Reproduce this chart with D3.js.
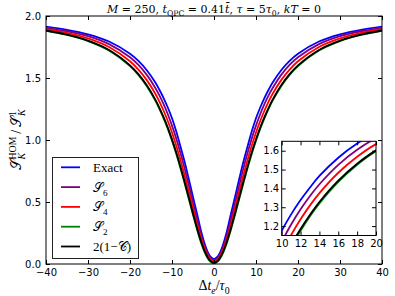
<!DOCTYPE html>
<html>
<head>
<meta charset="utf-8">
<script src="https://cdnjs.cloudflare.com/ajax/libs/d3/7.8.5/d3.min.js"></script>
<style>
body { margin: 0; background: #fff; }
</style>
</head>
<body>
<div id="chart"></div>
<script>
// delay axis (dt_e / tau_0)
var dt = [-40, -35, -30, -25, -20, -18, -16, -14, -13, -12, -11, -10, -9, -8, -7, -6, -5, -4, -3, -2, -1,
          0, 1, 2, 3, 4, 5, 6, 7, 8, 9, 10, 11, 12, 13, 14, 16, 18, 20, 25, 30, 35, 40];

// (main plot + inset)
var exact = [1.914, 1.889, 1.852, 1.794, 1.696, 1.638, 1.563, 1.466, 1.405, 1.338, 1.262, 1.175, 1.07, 0.95, 0.825, 0.685, 0.54, 0.40, 0.255, 0.14, 0.066,
             0.04, 0.066, 0.14, 0.255, 0.40, 0.54, 0.685, 0.825, 0.95, 1.07, 1.175, 1.262, 1.338, 1.405, 1.466, 1.563, 1.638, 1.696, 1.794, 1.852, 1.889, 1.914];
var s6 = [1.905, 1.877, 1.837, 1.773, 1.667, 1.605, 1.525, 1.422, 1.36, 1.289, 1.208, 1.116, 1.013, 0.897, 0.771, 0.634, 0.493, 0.354, 0.226, 0.122, 0.054,
          0.03, 0.054, 0.122, 0.226, 0.354, 0.493, 0.634, 0.771, 0.897, 1.013, 1.116, 1.208, 1.289, 1.36, 1.422, 1.525, 1.605, 1.667, 1.773, 1.837, 1.877, 1.905];
var s4 = [1.894, 1.864, 1.819, 1.75, 1.635, 1.568, 1.483, 1.375, 1.31, 1.236, 1.153, 1.06, 0.955, 0.84, 0.716, 0.584, 0.449, 0.318, 0.199, 0.104, 0.042,
          0.02, 0.042, 0.104, 0.199, 0.318, 0.449, 0.584, 0.716, 0.84, 0.955, 1.06, 1.153, 1.236, 1.31, 1.375, 1.483, 1.568, 1.635, 1.75, 1.819, 1.864, 1.894];
var s2 = [1.881, 1.848, 1.798, 1.722, 1.597, 1.525, 1.434, 1.32, 1.252, 1.175, 1.09, 0.995, 0.89, 0.775, 0.652, 0.525, 0.396, 0.273, 0.164, 0.078, 0.024,
          0.005, 0.024, 0.078, 0.164, 0.273, 0.396, 0.525, 0.652, 0.775, 0.89, 0.995, 1.09, 1.175, 1.252, 1.32, 1.434, 1.525, 1.597, 1.722, 1.798, 1.848, 1.881];
var twoOneMinusC = [1.883, 1.85, 1.801, 1.726, 1.602, 1.531, 1.441, 1.328, 1.26, 1.184, 1.10, 1.005, 0.901, 0.787, 0.664, 0.537, 0.408, 0.284, 0.174, 0.087, 0.03,
                    0.01, 0.03, 0.087, 0.174, 0.284, 0.408, 0.537, 0.664, 0.787, 0.901, 1.005, 1.10, 1.184, 1.26, 1.328, 1.441, 1.531, 1.602, 1.726, 1.801, 1.85, 1.883];

var xTicks = [-40, -30, -20, -10, 0, 10, 20, 30, 40];
var yTicks = [0, 0.5, 1.0, 1.5, 2.0];
var insetXTicks = [10, 12, 14, 16, 18, 20];
var insetYTicks = [1.2, 1.3, 1.4, 1.5, 1.6];

var series = [
    {name: 'exact', values: exact, color: '#0000ff'},
    {name: 's6', values: s6, color: '#800080'},
    {name: 's4', values: s4, color: '#ff0000'},
    {name: 's2', values: s2, color: '#008000'},
    {name: 'c', values: twoOneMinusC, color: '#000000'}
];

var serif = "'DejaVu Serif', 'Liberation Serif', serif";
var serif2 = "'Liberation Serif', 'DejaVu Serif', serif";
var sans = "'DejaVu Sans', sans-serif";

var svg = d3.select('#chart').append('svg')
    .attr('width', 395)
    .attr('height', 296);

var x = d3.scaleLinear().domain([-40, 40]).range([46, 382]);
var y = d3.scaleLinear().domain([0, 2]).range([264, 16]);

// text with italic / sub / sup pieces
function mathText(sel, parts, size) {
    var shift = 0;
    parts.forEach(function (p) {
        var s = p.s === 'sub' ? size * 0.3 : (p.s === 'sup' ? -size * 0.38 : 0);
        var ts = sel.append('tspan')
            .attr('dy', s - shift)
            .attr('font-size', p.s ? size * 0.7 : size)
            .attr('font-style', p.i ? 'italic' : 'normal')
            .text(p.t);
        if (p.back) {
            ts.attr('dx', -p.back());
        }
        p.node = ts.node();
        shift = s;
    });
    if (shift !== 0) {
        sel.append('tspan').attr('dy', -shift).text('');
    }
}

svg.append('clipPath').attr('id', 'mainClip')
    .append('rect')
    .attr('x', 46).attr('y', 16).attr('width', 336).attr('height', 248);

function lineGen(xs, ys) {
    return d3.line()
        .x(function (d, i) { return xs(dt[i]); })
        .y(function (d) { return ys(d); })
        .curve(d3.curveCatmullRom.alpha(0.5));
}

var mainLine = lineGen(x, y);
svg.append('g').attr('clip-path', 'url(#mainClip)')
    .selectAll('path')
    .data(series)
    .enter()
    .append('path')
        .attr('d', function (d) { return mainLine(d.values); })
        .attr('fill', 'none')
        .attr('stroke', function (d) { return d.color; })
        .attr('stroke-width', 1.8);

// main axes, ticks pointing inward
svg.append('g').attr('transform', 'translate(0,264)')
    .call(d3.axisBottom(x).tickValues(xTicks).tickSize(-4).tickSizeOuter(0).tickPadding(5));
svg.append('g').attr('transform', 'translate(0,16)')
    .call(d3.axisTop(x).tickValues(xTicks).tickSize(-4).tickSizeOuter(0).tickFormat(''));
svg.append('g').attr('transform', 'translate(46,0)')
    .call(d3.axisLeft(y).tickValues(yTicks).tickSize(-4).tickSizeOuter(0).tickPadding(5).tickFormat(d3.format('.1f')));
svg.append('g').attr('transform', 'translate(382,0)')
    .call(d3.axisRight(y).tickValues(yTicks).tickSize(-4).tickSizeOuter(0).tickFormat(''));

svg.selectAll('.domain').remove();
svg.selectAll('.tick line').attr('stroke', '#000');
svg.selectAll('.tick text').attr('font-family', sans).attr('font-size', 10).attr('fill', '#000');

svg.append('rect')
    .attr('x', 46).attr('y', 16).attr('width', 336).attr('height', 248)
    .attr('fill', 'none').attr('stroke', '#000').attr('stroke-width', 1);

// inset
var ix = d3.scaleLinear().domain([10, 20]).range([281.7, 376]);
var iy = d3.scaleLinear().domain([1.15, 1.65]).range([235.5, 141.3]);
var inset = svg.append('g').attr('class', 'inset');

inset.append('rect')
    .attr('x', 281.7).attr('y', 141.3).attr('width', 94.3).attr('height', 94.2)
    .attr('fill', '#fff');

svg.append('clipPath').attr('id', 'insetClip')
    .append('rect')
    .attr('x', 281.7).attr('y', 141.3).attr('width', 94.3).attr('height', 94.2);

var insetLine = lineGen(ix, iy);
inset.append('g').attr('clip-path', 'url(#insetClip)')
    .selectAll('path')
    .data(series)
    .enter()
    .append('path')
        .attr('d', function (d) { return insetLine(d.values); })
        .attr('fill', 'none')
        .attr('stroke', function (d) { return d.color; })
        .attr('stroke-width', 1.8);

inset.append('g').attr('transform', 'translate(0,235.5)')
    .call(d3.axisBottom(ix).tickValues(insetXTicks).tickSize(-4).tickSizeOuter(0).tickPadding(4));
inset.append('g').attr('transform', 'translate(0,141.3)')
    .call(d3.axisTop(ix).tickValues(insetXTicks).tickSize(-4).tickSizeOuter(0).tickFormat(''));
inset.append('g').attr('transform', 'translate(281.7,0)')
    .call(d3.axisLeft(iy).tickValues(insetYTicks).tickSize(-4).tickSizeOuter(0).tickPadding(2.5).tickFormat(d3.format('.1f')));
inset.append('g').attr('transform', 'translate(376,0)')
    .call(d3.axisRight(iy).tickValues(insetYTicks).tickSize(-4).tickSizeOuter(0).tickFormat(''));

inset.selectAll('.domain').remove();
inset.selectAll('.tick line').attr('stroke', '#000');
inset.selectAll('.tick text').attr('font-family', sans).attr('font-size', 10).attr('fill', '#000');

inset.append('rect')
    .attr('x', 281.7).attr('y', 141.3).attr('width', 94.3).attr('height', 94.2)
    .attr('fill', 'none').attr('stroke', '#000').attr('stroke-width', 1);

// legend
var legend = svg.append('g').attr('class', 'legend');
legend.append('rect')
    .attr('x', 52.5).attr('y', 157.5).attr('width', 86).attr('height', 101)
    .attr('fill', '#fff').attr('stroke', '#222').attr('stroke-width', 1);

var legendLabels = [
    [{t: 'Exact'}],
    [{t: '𝒮'}, {t: '6', s: 'sub'}],
    [{t: '𝒮'}, {t: '4', s: 'sub'}],
    [{t: '𝒮'}, {t: '2', s: 'sub'}],
    [{t: '2(1−'}, {t: '𝒞'}, {t: ')'}]
];

series.forEach(function (d, i) {
    var ly = 167.3 + i * 19.8;
    legend.append('line')
        .attr('x1', 61).attr('x2', 80)
        .attr('y1', ly).attr('y2', ly)
        .attr('stroke', d.color).attr('stroke-width', 1.8);
    var t = legend.append('text')
        .attr('x', 93).attr('y', ly + 4.5)
        .attr('font-family', serif2)
        .attr('fill', '#000');
    mathText(t, legendLabels[i], 13);
});

// title
var title = svg.append('text')
    .attr('x', 214).attr('y', 12.5)
    .attr('text-anchor', 'middle')
    .attr('font-family', serif)
    .attr('fill', '#000');
mathText(title, [
    {t: 'M', i: 1}, {t: ' = 250, '}, {t: 't', i: 1}, {t: 'QPC', s: 'sub'}, {t: ' = 0.41'},
    {t: 't̄', i: 1}, {t: ', '}, {t: 'τ', i: 1}, {t: ' = 5'}, {t: 'τ', i: 1}, {t: '0', s: 'sub'},
    {t: ', '}, {t: 'kT', i: 1}, {t: ' = 0'}
], 11);

// x label
var xlab = svg.append('text')
    .attr('x', 214).attr('y', 290)
    .attr('text-anchor', 'middle')
    .attr('font-family', serif2)
    .attr('fill', '#000');
mathText(xlab, [
    {t: 'Δ'}, {t: 't', i: 1}, {t: 'e', i: 1, s: 'sub'}, {t: '/'}, {t: 'τ', i: 1}, {t: '0', s: 'sub'}
], 14);

// y label, sub and sup stacked
var ylab = svg.append('text')
    .attr('transform', 'translate(21,140) rotate(-90)')
    .attr('text-anchor', 'middle')
    .attr('font-family', serif2)
    .attr('fill', '#000');
var k1 = {t: 'K', i: 1, s: 'sub'};
var k2 = {t: 'K', i: 1, s: 'sub'};
mathText(ylab, [
    {t: '𝒮'}, k1,
    {t: 'HOM', s: 'sup', back: function () { return k1.node.getComputedTextLength(); }},
    {t: '\u2009/\u2009'}, {t: '𝒮'}, k2,
    {t: '1', s: 'sup', back: function () { return k2.node.getComputedTextLength(); }}
], 14);
</script>
</body>
</html>
